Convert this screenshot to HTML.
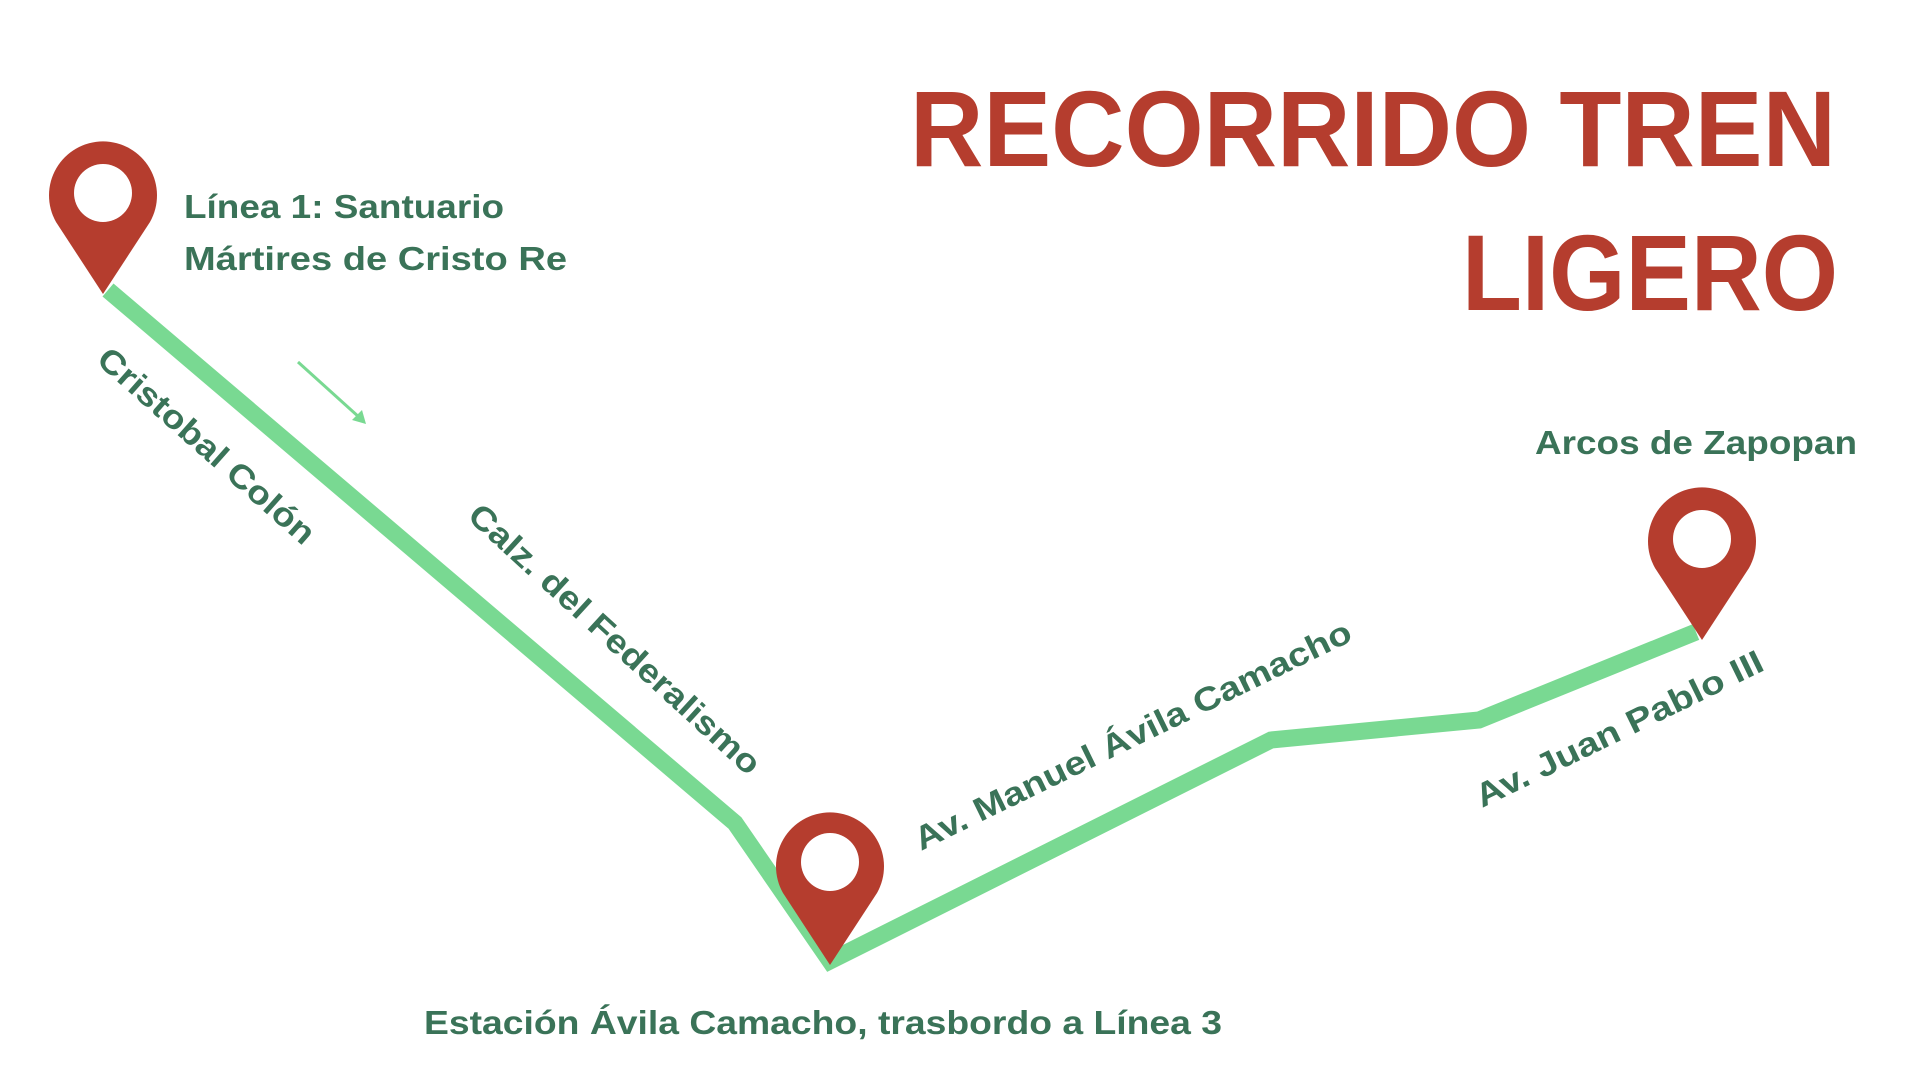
<!DOCTYPE html>
<html><head><meta charset="utf-8"><style>
html,body{margin:0;padding:0;background:#fff;width:1920px;height:1080px;overflow:hidden}
svg text{font-family:"Liberation Sans","DejaVu Sans",sans-serif;font-weight:bold}
</style></head><body>
<svg width="1920" height="1080" viewBox="0 0 1920 1080" xmlns="http://www.w3.org/2000/svg">
<polyline points="108,290 735,823 830,961 1271,740 1479,720 1696,632" fill="none" stroke="#79d992" stroke-width="17" stroke-linejoin="miter"/>
<line x1="298" y1="362" x2="360" y2="418" stroke="#79d992" stroke-width="3"/>
<path d="M366,424 L352,420 L362,410 Z" fill="#79d992"/>
<g fill="#b53d2e">
<path d="M103,294 L56,222 A54,54 0 1 1 150,222 Z"/>
<path d="M830,965 L783,893 A54,54 0 1 1 877,893 Z"/>
<path d="M1702,640 L1655,568 A54,54 0 1 1 1749,568 Z"/>
</g>
<g fill="#fff">
<circle cx="103" cy="193" r="29"/>
<circle cx="830" cy="862" r="29"/>
<circle cx="1702" cy="539" r="29"/>
</g>
<g fill="#b53d2e" font-size="108">
<text x="1836" y="166" text-anchor="end" textLength="926" lengthAdjust="spacingAndGlyphs">RECORRIDO TREN</text>
<text x="1838" y="310" text-anchor="end" textLength="376" lengthAdjust="spacingAndGlyphs">LIGERO</text>
</g>
<g fill="#3a7358" font-size="33">
<text x="184" y="218" textLength="320" lengthAdjust="spacingAndGlyphs">Línea 1: Santuario</text>
<text x="184" y="270" textLength="383" lengthAdjust="spacingAndGlyphs">Mártires de Cristo Re</text>
<text x="1535" y="454" textLength="322" lengthAdjust="spacingAndGlyphs">Arcos de Zapopan</text>
<text x="424" y="1034" textLength="798" lengthAdjust="spacingAndGlyphs">Estación Ávila Camacho, trasbordo a Línea 3</text>
<text transform="translate(95,362) rotate(41.5)" textLength="278" lengthAdjust="spacingAndGlyphs">Cristobal Colón</text>
<text transform="translate(466,518) rotate(42.5)" textLength="383" lengthAdjust="spacingAndGlyphs">Calz. del Federalismo</text>
<text transform="translate(921,851) rotate(-26)" textLength="482" lengthAdjust="spacingAndGlyphs">Av. Manuel Ávila Camacho</text>
<text transform="translate(1482,808) rotate(-26)" textLength="316" lengthAdjust="spacingAndGlyphs">Av. Juan Pablo III</text>
</g>
</svg>
</body></html>
